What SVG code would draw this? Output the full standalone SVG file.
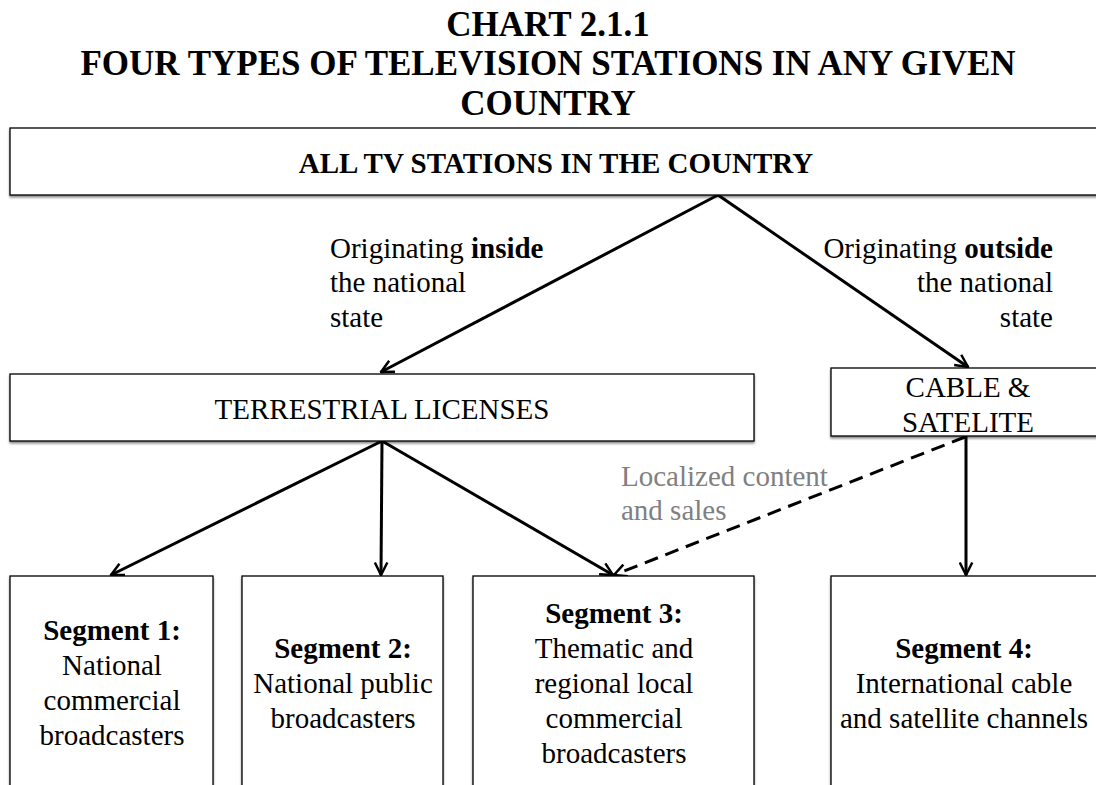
<svg xmlns="http://www.w3.org/2000/svg" width="1096" height="785" viewBox="0 0 1096 785">
  <defs>
    <style>
      text { font-family: "Liberation Serif", "Times New Roman", serif; fill: #000; }
      .title { font-size: 35px; font-weight: bold; text-anchor: middle; }
      .lbl { font-size: 29px; }
      .mid { text-anchor: middle; }
      .end { text-anchor: end; }
      .b { font-weight: bold; }
      .note { fill: #808080; }
      .box { fill: #fff; stroke: #000; stroke-width: 1.3; filter: url(#shadow); }
      .link { stroke: #000; stroke-width: 3; fill: none; marker-end: url(#arrow); }
      .dash { stroke-dasharray: 14 8; }
    </style>
    <filter id="shadow" x="-5%" y="-20%" width="110%" height="140%">
      <feDropShadow dx="0" dy="2" stdDeviation="1.2" flood-color="#000" flood-opacity="0.45"/>
    </filter>
    <marker id="arrow" viewBox="0 0 12 12" refX="11" refY="6" markerWidth="5" markerHeight="5" orient="auto" markerUnits="strokeWidth">
      <path d="M1,1 L11,6 L1,11" fill="none" stroke="#000" stroke-width="2"/>
    </marker>
  </defs>
  <rect width="1096" height="785" fill="#fff"/>

  <g id="title">
    <text class="title" x="548" y="36">CHART 2.1.1</text>
    <text class="title" x="548" y="75">FOUR TYPES OF TELEVISION STATIONS IN ANY GIVEN</text>
    <text class="title" x="548" y="115">COUNTRY</text>
  </g>

  <g id="connectors">
    <line class="link" x1="718" y1="195" x2="381" y2="372"/>
    <line class="link" x1="718" y1="195" x2="968" y2="367"/>
    <line class="link" x1="382" y1="441" x2="111" y2="575"/>
    <line class="link" x1="382" y1="441" x2="381" y2="575"/>
    <line class="link" x1="382" y1="441" x2="613" y2="575"/>
    <line class="link" x1="966" y1="436" x2="966" y2="575"/>
    <line class="link dash" x1="965" y1="437" x2="614" y2="575"/>
  </g>

  <g id="all-stations">
    <rect class="box" x="10" y="128" width="1096" height="67"/>
    <text class="b mid" x="556" y="173" style="font-size:29px">ALL TV STATIONS IN THE COUNTRY</text>
  </g>

  <g id="label-inside">
    <text class="lbl" x="330" y="258">Originating <tspan class="b">inside</tspan></text>
    <text class="lbl" x="330" y="292">the national</text>
    <text class="lbl" x="330" y="327">state</text>
  </g>

  <g id="label-outside">
    <text class="lbl end" x="1053" y="258">Originating <tspan class="b">outside</tspan></text>
    <text class="lbl end" x="1053" y="292">the national</text>
    <text class="lbl end" x="1053" y="327">state</text>
  </g>

  <g id="terrestrial">
    <rect class="box" x="10" y="374" width="744" height="67"/>
    <text class="lbl mid" x="382" y="419">TERRESTRIAL LICENSES</text>
  </g>

  <g id="cable-satellite">
    <rect class="box" x="831" y="368" width="280" height="68"/>
    <text class="lbl mid" x="968" y="397">CABLE &amp;</text>
    <text class="lbl mid" x="968" y="432">SATELITE</text>
  </g>

  <g id="label-localized">
    <text class="lbl note" x="621" y="486">Localized content</text>
    <text class="lbl note" x="621" y="520">and sales</text>
  </g>

  <g id="segment-1">
    <rect class="box" x="10" y="576" width="203" height="230"/>
    <text class="lbl mid b" x="112" y="640">Segment 1:</text>
    <text class="lbl mid" x="112" y="675">National</text>
    <text class="lbl mid" x="112" y="710">commercial</text>
    <text class="lbl mid" x="112" y="745">broadcasters</text>
  </g>

  <g id="segment-2">
    <rect class="box" x="242" y="576" width="201" height="230"/>
    <text class="lbl mid b" x="343" y="658">Segment 2:</text>
    <text class="lbl mid" x="343" y="693">National public</text>
    <text class="lbl mid" x="343" y="728">broadcasters</text>
  </g>

  <g id="segment-3">
    <rect class="box" x="473" y="576" width="281" height="230"/>
    <text class="lbl mid b" x="614" y="623">Segment 3:</text>
    <text class="lbl mid" x="614" y="658">Thematic and</text>
    <text class="lbl mid" x="614" y="693">regional local</text>
    <text class="lbl mid" x="614" y="728">commercial</text>
    <text class="lbl mid" x="614" y="763">broadcasters</text>
  </g>

  <g id="segment-4">
    <rect class="box" x="831" y="576" width="280" height="230"/>
    <text class="lbl mid b" x="964" y="658">Segment 4:</text>
    <text class="lbl mid" x="964" y="693">International cable</text>
    <text class="lbl mid" x="964" y="728">and satellite channels</text>
  </g>
</svg>
